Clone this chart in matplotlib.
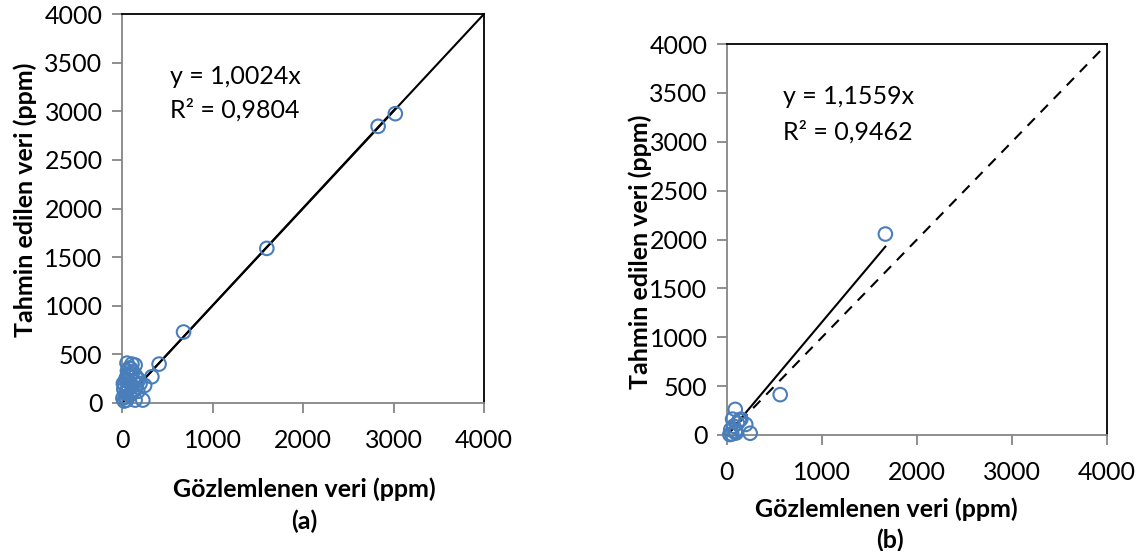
import numpy as np
import matplotlib.pyplot as plt

plt.rcParams['font.family'] = ['Lato', 'DejaVu Sans']

# (a) observed vs predicted
obs_a = [3020, 2830, 1600, 680, 410, 330, 250, 230, 145, 55, 110, 145, 30, 60, 80,
         100, 20, 45, 70, 90, 120, 150, 170, 40, 65, 95, 130, 160, 185, 10,
         35, 55, 75, 110, 140, 25, 50, 85, 115, 200, 15, 60, 100, 175]
pred_a = [2975, 2845, 1590, 730, 400, 270, 180, 30, 30, 410, 400, 390, 190, 330, 360,
          300, 140, 250, 230, 270, 320, 280, 250, 100, 180, 200, 220, 190, 240, 50,
          60, 120, 150, 170, 140, 20, 30, 80, 110, 200, 200, 280, 350, 120]
# (b)
obs_b = [1667, 560, 87, 59, 146, 197, 244, 39, 87, 110, 70, 130, 50, 95, 30]
pred_b = [2056, 413, 262, 162, 162, 108, 18, 54, 36, 120, 90, 150, 10, 20, 5]

slope_a, r2_a = 1.0024, 0.9804
slope_b, r2_b = 1.1559, 0.9462
ticks = [0, 500, 1000, 1500, 2000, 2500, 3000, 3500, 4000]
xticks = [0, 1000, 2000, 3000, 4000]

blue = '#4a7ebb'
grey = '#868686'
W, H = 1144, 551

fig = plt.figure(figsize=(11.44, 5.51), dpi=100)
# axes boxes in pixels: left, top, right, bottom
ax_a = fig.add_axes([122 / W, 1 - 403 / H, 362 / W, 389 / H])
ax_b = fig.add_axes([727 / W, 1 - 435 / H, 380 / W, 391 / H])


def style(ax):
    ax.set_xlim(0, 4000)
    ax.set_ylim(0, 4000)
    ax.set_xticks(xticks)
    ax.set_yticks(ticks)
    for s in ['left', 'bottom']:
        ax.spines[s].set_color(grey)
        ax.spines[s].set_linewidth(1.3)
    for s in ['top', 'right']:
        ax.spines[s].set_color('black')
        ax.spines[s].set_linewidth(1.3)
    ax.tick_params(direction='out', length=7, width=1.3, color=grey, labelsize=18)
    ax.tick_params(axis='x', pad=12)
    ax.tick_params(axis='y', pad=7)


def ftext(x, y, s, **kw):
    fig.text(x / W, 1 - y / H, s, ha='center', va='center', **kw)


# panel a
ax_a.plot([0, 4000], [0, 4000], color='black', lw=1.5, zorder=2)
xa = np.array([0, max(obs_a)])
ax_a.plot(xa, slope_a * xa, color='black', lw=1.5, zorder=2)
ax_a.scatter(obs_a, pred_a, s=95, facecolors='none', edgecolors=blue, linewidths=1.5, zorder=3, clip_on=False)
style(ax_a)
ax_a.text((170 - 122) / 362, (403 - 76) / 389, 'y = 1,0024x', transform=ax_a.transAxes, fontsize=18, va='center')
ax_a.text((170 - 122) / 362, (403 - 110) / 389, 'R² = 0,9804', transform=ax_a.transAxes, fontsize=18, va='center')
ftext(304, 489, 'Gözlemlenen veri (ppm)', fontsize=18, fontweight='bold')
ftext(304, 521, '(a)', fontsize=18, fontweight='bold')
ftext(25, 200, 'Tahmin edilen veri (ppm)', fontsize=18, fontweight='bold', rotation=90)

# panel b
ax_b.plot([0, 4000], [0, 4000], color='black', lw=1.5, ls=(0, (5, 4)), zorder=2)
xb = np.array([0, max(obs_b)])
ax_b.plot(xb, slope_b * xb, color='black', lw=1.5, zorder=2)
ax_b.scatter(obs_b, pred_b, s=95, facecolors='none', edgecolors=blue, linewidths=1.5, zorder=3, clip_on=False)
style(ax_b)
ax_b.text((783 - 727) / 380, (435 - 97) / 391, 'y = 1,1559x', transform=ax_b.transAxes, fontsize=18, va='center')
ax_b.text((783 - 727) / 380, (435 - 132) / 391, 'R² = 0,9462', transform=ax_b.transAxes, fontsize=18, va='center')
ftext(886, 509, 'Gözlemlenen veri (ppm)', fontsize=18, fontweight='bold')
ftext(890, 540, '(b)', fontsize=18, fontweight='bold')
ftext(640, 252, 'Tahmin edilen veri (ppm)', fontsize=18, fontweight='bold', rotation=90)

fig.savefig('out.png', dpi=100)
